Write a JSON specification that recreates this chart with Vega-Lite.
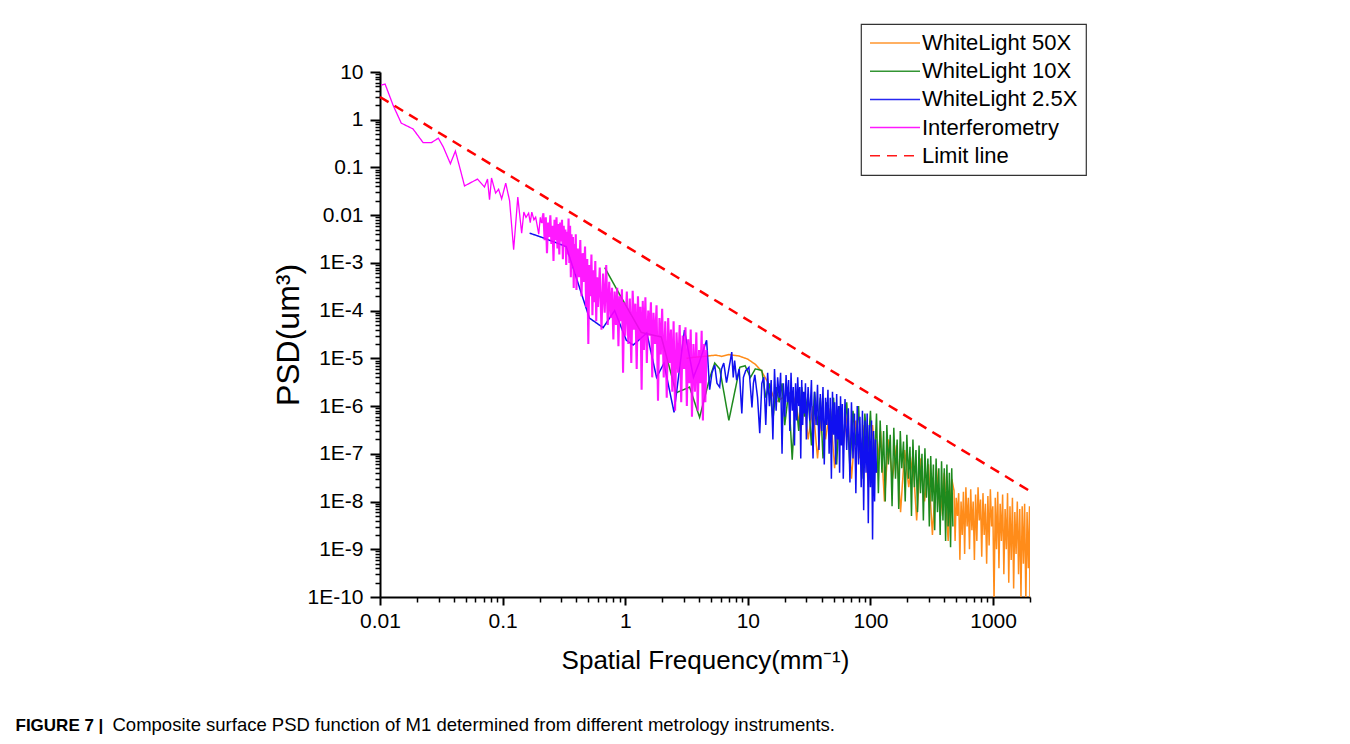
{
  "$schema": "https://vega.github.io/schema/vega-lite/v6.json",
  "width": 650,
  "height": 525,
  "autosize": {"type": "none"},
  "padding": {"left": 380, "top": 72, "right": 320, "bottom": 147},
  "background": "white",
  "config": {
    "view": {"stroke": null},
    "font": "Liberation Sans",
    "axis": {"labelFont": "Liberation Sans", "titleFont": "Liberation Sans", "labelColor": "black", "titleColor": "black", "grid": false, "domainColor": "black", "tickColor": "black"},
    "legend": {
      "orient": "none", "legendX": 481, "legendY": -48,
      "strokeColor": "#333333", "strokeWidth": 1.2, "padding": 8, "fillColor": "white",
      "symbolType": "M-5,0H5", "symbolSize": 100, "symbolStrokeWidth": 1.5, "symbolOffset": 15,
      "labelOffset": 16, "labelFontSize": 22, "labelFont": "Liberation Sans", "labelColor": "black",
      "rowPadding": 6.2, "labelLimit": 400
    }
  },
  "datasets": {
    "magentaSparse": [
      {"x":0.0102,"y":5.3},{"x":0.011,"y":5.6},{"x":0.0128,"y":2.0},{"x":0.0149,"y":0.85},{"x":0.0186,"y":0.64},{"x":0.0225,"y":0.33},{"x":0.0262,"y":0.33},{"x":0.0299,"y":0.41},{"x":0.0328,"y":0.27},{"x":0.0375,"y":0.12},{"x":0.0412,"y":0.22},{"x":0.0453,"y":0.088},{"x":0.0489,"y":0.041},{"x":0.0624,"y":0.057},{"x":0.0711,"y":0.039},{"x":0.0753,"y":0.057},{"x":0.0782,"y":0.021},{"x":0.0812,"y":0.06},{"x":0.0877,"y":0.029},{"x":0.0927,"y":0.035},{"x":0.0982,"y":0.022},{"x":0.106,"y":0.047},{"x":0.114,"y":0.02},{"x":0.123,"y":0.0019},{"x":0.133,"y":0.024},{"x":0.143,"y":0.0042},{"x":0.149,"y":0.0116},{"x":0.155,"y":0.009},{"x":0.163,"y":0.011},{"x":0.168,"y":0.007},{"x":0.173,"y":0.0116},{"x":0.18,"y":0.008},{"x":0.186,"y":0.0091},{"x":0.197,"y":0.004},{"x":0.203,"y":0.009},{"x":0.208,"y":0.0068}
    ],
    "magentaDense": [
      {"x":0.208,"y":0.0068},{"x":0.215,"y":1.1e-2},{"x":0.22,"y":3e-3},{"x":0.225,"y":9e-3},{"x":0.23,"y":1.6e-3},{"x":0.235,"y":7e-3},{"x":0.24,"y":3.5e-3},{"x":0.245,"y":1.0e-2},{"x":0.25,"y":2.5e-3},{"x":0.255,"y":6e-3},{"x":0.26,"y":1.1e-3},{"x":0.265,"y":8e-3},{"x":0.27,"y":3e-3},{"x":0.275,"y":9e-3},{"x":0.28,"y":2e-3},{"x":0.285,"y":6.5e-3},{"x":0.29,"y":1.5e-3},{"x":0.295,"y":7e-3},{"x":0.30,"y":2.8e-3},{"x":0.305,"y":8e-3},{"x":0.31,"y":1.2e-3},{"x":0.315,"y":6e-3},{"x":0.32,"y":2.2e-3},{"x":0.325,"y":5e-3},{"x":0.33,"y":9e-4},{"x":0.335,"y":4.5e-3},{"x":0.34,"y":1.5e-3},{"x":0.345,"y":8.5e-3},{"x":0.35,"y":1.0e-3},{"x":0.355,"y":6e-3},{"x":0.36,"y":5e-4},{"x":0.365,"y":4e-3},{"x":0.37,"y":8e-4},{"x":0.375,"y":3.5e-3},{"x":0.38,"y":3e-4},{"x":0.385,"y":2.5e-3},{"x":0.39,"y":6e-4},{"x":0.395,"y":4e-3},{"x":0.40,"y":2.7e-4},{"x":0.41,"y":2e-3},{"x":0.42,"y":5e-4},{"x":0.43,"y":3e-3},{"x":0.44,"y":2e-4},{"x":0.45,"y":1.6e-3},{"x":0.46,"y":4e-4},{"x":0.47,"y":2.2e-3},{"x":0.48,"y":1.2e-4},{"x":0.49,"y":1.2e-3},{"x":0.50,"y":2e-5},{"x":0.51,"y":9e-4},{"x":0.52,"y":2e-4},{"x":0.53,"y":1.5e-3},{"x":0.54,"y":8e-5},{"x":0.55,"y":7e-4},{"x":0.56,"y":1.5e-4},{"x":0.57,"y":1.1e-3},{"x":0.58,"y":6e-5},{"x":0.59,"y":5e-4},{"x":0.60,"y":1.2e-4},{"x":0.62,"y":8e-4},{"x":0.64,"y":4e-5},{"x":0.66,"y":6e-4},{"x":0.68,"y":9e-5},{"x":0.70,"y":9e-4},{"x":0.72,"y":5e-5},{"x":0.74,"y":4e-4},{"x":0.76,"y":7e-5},{"x":0.78,"y":3e-4},{"x":0.80,"y":2.5e-5},{"x":0.82,"y":2.5e-4},{"x":0.84,"y":5e-5},{"x":0.86,"y":3e-4},{"x":0.88,"y":1.8e-5},{"x":0.90,"y":2e-4},{"x":0.92,"y":6e-5},{"x":0.94,"y":2.8e-4},{"x":0.96,"y":5e-6},{"x":0.98,"y":1.5e-4},{"x":1.00,"y":3e-5},{"x":1.03,"y":2.5e-4},{"x":1.06,"y":2e-5},{"x":1.09,"y":1.8e-4},{"x":1.12,"y":8e-6},{"x":1.15,"y":2.6e-4},{"x":1.18,"y":4e-5},{"x":1.21,"y":1.4e-4},{"x":1.24,"y":6e-6},{"x":1.27,"y":2e-4},{"x":1.30,"y":2.5e-5},{"x":1.33,"y":1.2e-4},{"x":1.36,"y":2.2e-6},{"x":1.39,"y":1.6e-4},{"x":1.42,"y":1.5e-5},{"x":1.46,"y":1.9e-4},{"x":1.50,"y":8e-6},{"x":1.54,"y":1.0e-4},{"x":1.58,"y":3e-5},{"x":1.62,"y":1.5e-4},{"x":1.66,"y":4e-6},{"x":1.70,"y":9e-5},{"x":1.75,"y":2e-5},{"x":1.80,"y":1.3e-4},{"x":1.85,"y":1.3e-6},{"x":1.90,"y":7e-5},{"x":1.95,"y":1.2e-5},{"x":2.00,"y":1.1e-4},{"x":2.06,"y":4e-6},{"x":2.12,"y":6e-5},{"x":2.18,"y":1.5e-6},{"x":2.24,"y":7e-5},{"x":2.30,"y":8e-6},{"x":2.36,"y":4e-5},{"x":2.42,"y":2e-6},{"x":2.48,"y":6e-5},{"x":2.55,"y":8e-7},{"x":2.62,"y":3.5e-5},{"x":2.70,"y":5e-6},{"x":2.78,"y":5e-5},{"x":2.86,"y":1.2e-6},{"x":2.94,"y":3e-5},{"x":3.02,"y":6e-6},{"x":3.10,"y":4.5e-5},{"x":3.18,"y":1e-6},{"x":3.26,"y":2.5e-5},{"x":3.34,"y":3e-6},{"x":3.42,"y":4e-5},{"x":3.50,"y":6e-7},{"x":3.60,"y":2e-5},{"x":3.70,"y":2e-6},{"x":3.80,"y":3.5e-5},{"x":3.90,"y":8e-7},{"x":4.00,"y":1.5e-5},{"x":4.10,"y":3e-6},{"x":4.20,"y":3.8e-5},{"x":4.30,"y":5e-7},{"x":4.40,"y":2e-5},{"x":4.50,"y":1.2e-6},{"x":4.60,"y":1.5e-5}
    ],
    "blue": [
      {"x":0.166,"y":4.2e-3},{"x":0.205,"y":3.5e-3},{"x":0.33,"y":2.2e-3},{"x":0.51,"y":7e-5},{"x":0.66,"y":4.4e-5},{"x":0.82,"y":1.0e-4},{"x":1.02,"y":2.4e-5},{"x":1.16,"y":1.9e-5},{"x":1.5,"y":3.4e-5},{"x":1.8,"y":4e-6},{"x":2.07,"y":7.9e-6},{"x":2.5,"y":7.4e-7},{"x":3.04,"y":3.9e-5},{"x":3.6,"y":4e-6},{"x":4.0,"y":8e-6},{"x":4.61,"y":2.4e-5},{"x":4.88,"y":2.2e-6},{"x":5.1,"y":5e-6},{"x":5.37,"y":7.2e-6},{"x":5.6,"y":3e-6},{"x":5.89,"y":2.5e-6},{"x":6.1,"y":6e-6},{"x":6.36,"y":8e-6},{"x":6.7,"y":3.1e-6},{"x":7.0,"y":6e-6},{"x":7.39,"y":1.35e-5},{"x":7.6,"y":4e-6},{"x":7.8,"y":9e-6},{"x":8.1,"y":3.5e-6},{"x":8.5,"y":6e-6},{"x":8.93,"y":7e-7},{"x":9.2,"y":4e-6},{"x":9.6,"y":5.5e-6},{"x":10.2,"y":6.5e-6},{"x":10.8,"y":9.4e-7},{"x":11.1,"y":3e-6},{"x":11.4,"y":4.5e-6},{"x":12.0,"y":1.5e-6},{"x":12.5,"y":2.7e-7},{"x":13.0,"y":3e-6},{"x":13.5,"y":4e-6},
      {"x":14.0,"y":4e-7},{"x":14.5,"y":5e-6},{"x":15.0,"y":1e-6},{"x":15.5,"y":3.5e-6},{"x":16.0,"y":2e-7},{"x":16.5,"y":6e-6},{"x":17.0,"y":8e-7},{"x":17.5,"y":4e-6},{"x":18.0,"y":1.5e-6},{"x":18.5,"y":5e-6},{"x":19.0,"y":1e-7},{"x":19.5,"y":3e-6},{"x":20.0,"y":6e-7},{"x":20.5,"y":4.5e-6},{"x":21.0,"y":1.2e-6},{"x":21.5,"y":3.5e-6},{"x":22.0,"y":3e-7},{"x":22.5,"y":5e-6},{"x":23.0,"y":8e-7},{"x":23.5,"y":2.5e-6},{"x":24.0,"y":1.5e-7},{"x":24.5,"y":3e-6},{"x":25.0,"y":5e-7},{"x":25.5,"y":4e-6},{"x":26.0,"y":1e-6},{"x":26.5,"y":2.5e-6},{"x":27.0,"y":8e-8},{"x":27.5,"y":3.5e-6},{"x":28.0,"y":4e-7},{"x":28.5,"y":2e-6},{"x":29.0,"y":7e-7},{"x":29.5,"y":3e-6},{"x":30,"y":2e-7},{"x":31,"y":2.5e-6},{"x":32,"y":5e-7},{"x":33,"y":3.5e-6},{"x":34,"y":8e-8},{"x":35,"y":2e-6},{"x":36,"y":4e-7},{"x":37,"y":2.8e-6},{"x":38,"y":1.2e-7},{"x":39,"y":1.8e-6},{"x":40,"y":3e-7},{"x":41,"y":2.5e-6},{"x":42,"y":6e-8},{"x":43,"y":1.5e-6},{"x":44,"y":4e-7},{"x":45,"y":2.2e-6},{"x":46,"y":1e-7},{"x":47,"y":1.5e-6},{"x":48,"y":3e-8},{"x":49,"y":2e-6},{"x":50,"y":2.5e-7},{"x":51,"y":1.2e-6},{"x":52,"y":6e-8},{"x":53,"y":1.8e-6},{"x":54,"y":2e-7},{"x":55,"y":1e-6},{"x":56,"y":4e-8},{"x":57,"y":1.6e-6},{"x":58,"y":1.5e-7},{"x":59,"y":1.1e-6},{"x":60,"y":3e-8},{"x":62,"y":1.4e-6},{"x":64,"y":1.2e-7},{"x":66,"y":9e-7},{"x":68,"y":2.5e-8},{"x":70,"y":1.2e-6},{"x":72,"y":8e-8},{"x":74,"y":7e-7},{"x":76,"y":1.5e-8},{"x":78,"y":1e-6},{"x":80,"y":6e-8},{"x":82,"y":6e-7},{"x":84,"y":2e-8},{"x":86,"y":8e-7},{"x":88,"y":6.6e-9},{"x":90,"y":5e-7},{"x":92,"y":4e-8},{"x":94,"y":7e-7},{"x":96,"y":3.5e-9},{"x":98,"y":4e-7},{"x":100,"y":2e-8},{"x":102,"y":5e-7},{"x":104,"y":1.6e-9},{"x":106,"y":3e-7},{"x":108,"y":1e-8},{"x":110,"y":2e-7},{"x":112,"y":4e-8}
    ],
    "green": [
      {"x":0.68,"y":8e-4},{"x":0.89,"y":2.3e-4},{"x":1.35,"y":3.5e-5},{"x":1.97,"y":2.8e-5},{"x":2.6,"y":1.9e-6},{"x":3.35,"y":2.5e-6},{"x":4.04,"y":5.8e-7},{"x":4.9,"y":4e-6},{"x":5.37,"y":8e-6},{"x":5.9,"y":6e-6},{"x":7.0,"y":5e-7},{"x":8.6,"y":6.5e-6},{"x":9.5,"y":7e-6},{"x":10.5,"y":4e-6},{"x":11.5,"y":6e-6},{"x":13,"y":5.6e-6},{"x":14,"y":1.5e-6},{"x":15,"y":3e-6},{"x":16,"y":5e-7},{"x":17,"y":2.5e-6},{"x":18,"y":1.2e-6},{"x":19,"y":3e-6},{"x":20,"y":4e-7},{"x":21.5,"y":2e-6},{"x":23,"y":7.5e-8},{"x":24.5,"y":1.5e-6},{"x":26,"y":3e-7},{"x":27.5,"y":2.5e-6},{"x":29,"y":6e-7},{"x":31,"y":1.8e-6},{"x":33,"y":1.5e-7},{"x":35,"y":2e-6},{"x":37,"y":4e-7},{"x":39,"y":1.5e-6},{"x":41,"y":8e-8},{"x":44,"y":1.2e-6},{"x":47,"y":2.5e-7},{"x":50,"y":1.5e-6},{"x":53,"y":6e-8},{"x":56,"y":1e-6},{"x":60,"y":2e-7},{"x":64,"y":1.2e-6},{"x":68,"y":5e-8},{"x":72,"y":8e-7},{"x":76,"y":1.5e-7},{"x":80,"y":1e-6},{"x":85,"y":3e-8},{"x":90,"y":7e-7},{"x":95,"y":1e-7},{"x":100,"y":8e-7},{"x":106,"y":2e-8},{"x":112,"y":7e-7},
      {"x":116,"y":1.5e-8},{"x":120,"y":5e-7},{"x":124,"y":4e-8},{"x":128,"y":3e-7},{"x":132,"y":1e-8},{"x":136,"y":4e-7},{"x":140,"y":6e-8},{"x":145,"y":2.5e-7},{"x":150,"y":8e-9},{"x":155,"y":3.5e-7},{"x":160,"y":3e-8},{"x":165,"y":2e-7},{"x":170,"y":7e-9},{"x":175,"y":3e-7},{"x":180,"y":5e-8},{"x":186,"y":1.8e-7},{"x":192,"y":1e-8},{"x":198,"y":2.5e-7},{"x":204,"y":3e-8},{"x":210,"y":1.4e-7},{"x":216,"y":5e-9},{"x":222,"y":2e-7},{"x":228,"y":2e-8},{"x":235,"y":1.2e-7},{"x":242,"y":6e-9},{"x":249,"y":1.5e-7},{"x":256,"y":1.5e-8},{"x":263,"y":1e-7},{"x":270,"y":4e-9},{"x":278,"y":1.3e-7},{"x":286,"y":1.2e-8},{"x":294,"y":8e-8},{"x":302,"y":3e-9},{"x":310,"y":9e-8},{"x":318,"y":1e-8},{"x":326,"y":6e-8},{"x":334,"y":2.5e-9},{"x":343,"y":8e-8},{"x":352,"y":6e-9},{"x":361,"y":5e-8},{"x":370,"y":2e-9},{"x":380,"y":7e-8},{"x":390,"y":4e-9},{"x":400,"y":5e-8},{"x":410,"y":1.5e-9},{"x":420,"y":6e-8},{"x":430,"y":3e-9},{"x":440,"y":4e-8},{"x":450,"y":1.1e-9},{"x":460,"y":5e-8},{"x":470,"y":3e-9}
    ],
    "orange": [
      {"x":3.16,"y":1.0e-5},{"x":3.6,"y":1.05e-5},{"x":4.4,"y":1.1e-5},{"x":5.5,"y":1.17e-5},{"x":6.1,"y":1.1e-5},{"x":7.0,"y":1.2e-5},{"x":8.5,"y":1.12e-5},{"x":10,"y":9.6e-6},{"x":11.5,"y":7.5e-6},{"x":13,"y":5.3e-6},{"x":14.8,"y":2.9e-6},{"x":16.8,"y":1.2e-6},{"x":18.5,"y":1.4e-6},{"x":20,"y":1.6e-6},{"x":23,"y":2e-6},{"x":25,"y":9e-7},
      {"x":27,"y":3e-7},{"x":29,"y":1.2e-6},{"x":31,"y":2e-7},{"x":34,"y":1e-6},{"x":37,"y":8e-8},{"x":40,"y":8e-7},{"x":43,"y":2e-7},{"x":47,"y":9e-7},{"x":51,"y":5e-8},{"x":55,"y":6e-7},{"x":60,"y":1.5e-7},{"x":65,"y":7e-7},{"x":70,"y":3e-8},{"x":76,"y":5e-7},{"x":82,"y":8e-8},{"x":89,"y":4e-7},{"x":96,"y":2e-8},{"x":104,"y":4e-7},{"x":112,"y":4e-8},{"x":121,"y":3e-7},{"x":130,"y":1e-8},{"x":140,"y":2e-7},{"x":151,"y":3e-8},{"x":163,"y":1.5e-7},{"x":176,"y":6e-9},{"x":190,"y":1.2e-7},{"x":205,"y":2e-8},{"x":221,"y":9e-8},{"x":238,"y":4e-9},{"x":256,"y":8e-8},{"x":276,"y":1e-8},{"x":297,"y":6e-8},{"x":320,"y":2e-9},{"x":345,"y":5e-8},{"x":372,"y":5e-9},{"x":400,"y":4e-8},{"x":430,"y":1.5e-9},{"x":460,"y":3e-8},
      {"x":480,"y":1.7e-8},{"x":490,"y":1.5e-9},{"x":500,"y":1.2e-8},{"x":512,"y":5e-9},{"x":524,"y":1.5e-8},{"x":536,"y":6e-10},{"x":548,"y":1e-8},{"x":560,"y":2e-9},{"x":573,"y":1.6e-8},{"x":586,"y":8e-10},{"x":600,"y":2e-8},{"x":614,"y":3e-9},{"x":628,"y":1.2e-8},{"x":642,"y":1e-9},{"x":657,"y":1.8e-8},{"x":672,"y":2.5e-9},{"x":688,"y":1e-8},{"x":704,"y":6e-10},{"x":720,"y":1.4e-8},{"x":737,"y":1.5e-9},{"x":754,"y":2e-8},{"x":772,"y":4e-9},{"x":790,"y":1.1e-8},{"x":808,"y":7e-10},{"x":827,"y":1.5e-8},{"x":846,"y":2e-9},{"x":866,"y":9e-9},{"x":886,"y":5e-10},{"x":907,"y":1.3e-8},{"x":928,"y":1.2e-9},{"x":950,"y":1.8e-8},{"x":972,"y":3e-9},{"x":995,"y":8e-9},{"x":1018,"y":8e-11},{"x":1042,"y":1.2e-8},{"x":1066,"y":1e-9},{"x":1091,"y":1.6e-8},{"x":1116,"y":4e-10},{"x":1142,"y":9e-9},{"x":1169,"y":1.5e-9},{"x":1196,"y":1.4e-8},{"x":1224,"y":3e-10},{"x":1253,"y":7e-9},{"x":1282,"y":1e-9},{"x":1312,"y":1.5e-8},{"x":1342,"y":2e-10},{"x":1373,"y":8e-9},{"x":1405,"y":6e-10},{"x":1438,"y":1.2e-8},{"x":1471,"y":1.5e-10},{"x":1505,"y":6e-9},{"x":1540,"y":8e-10},{"x":1576,"y":1e-8},{"x":1613,"y":3e-10},{"x":1650,"y":7e-9},{"x":1688,"y":1e-10},{"x":1727,"y":8e-9},{"x":1767,"y":5e-10},{"x":1808,"y":9e-9},{"x":1850,"y":8e-11},{"x":1893,"y":6e-9},{"x":1937,"y":4e-10},{"x":1982,"y":8e-9},{"x":2000,"y":7e-11}
    ],
    "limit": [{"x":0.01,"y":3.0},{"x":2000,"y":1.65e-8}]
  },
  "layer": [
    {
      "encoding": {
        "x": {"field": "x", "type": "quantitative", "scale": {"type": "log", "domain": [0.01, 2000], "nice": false},
          "axis": {"orient": "bottom", "values": [0.01, 0.1, 1, 10, 100, 1000], "labelExpr": "'' + datum.value", "tickSize": 8, "tickWidth": 2, "domainWidth": 2, "labelFontSize": 21, "labelPadding": 5, "labelFlush": false, "labelOverlap": false, "title": "Spatial Frequency(mm⁻¹)", "titleFontSize": 26, "titleFontWeight": "normal", "titlePadding": 16}},
        "y": {"field": "y", "type": "quantitative", "scale": {"type": "log", "domain": [1e-10, 10], "nice": false},
          "axis": {"orient": "left", "values": [1e-10, 1e-9, 1e-8, 1e-7, 1e-6, 1e-5, 1e-4, 1e-3, 0.01, 0.1, 1, 10], "labelExpr": "datum.value >= 0.01 ? '' + datum.value : '1E' + round(log(datum.value)/LN10)", "tickSize": 10, "tickWidth": 2, "domainWidth": 2, "labelFontSize": 21, "labelPadding": 7, "labelFlush": false, "labelOverlap": false, "title": "PSD(um³)", "titleFontSize": 32, "titleFontWeight": "normal", "titlePadding": 1}}
      },
      "layer": [
        {"data": {"name": "orange"}, "mark": {"type": "line", "strokeWidth": 1.5, "clip": true},
         "encoding": {"color": {"datum": "WhiteLight 50X", "type": "nominal", "scale": {"domain": ["WhiteLight 50X", "WhiteLight 10X", "WhiteLight 2.5X", "Interferometry", "Limit line"], "range": ["#FF8C1A", "#1E8A1E", "#1010F0", "#FF00FF", "#FF0000"]}, "legend": {"title": null}},
                      "strokeDash": {"datum": "WhiteLight 50X", "type": "nominal", "scale": {"domain": ["WhiteLight 50X", "WhiteLight 10X", "WhiteLight 2.5X", "Interferometry", "Limit line"], "range": [[1, 0], [1, 0], [1, 0], [1, 0], [10, 7]]}, "legend": {"title": null}}}},
        {"data": {"name": "green"}, "mark": {"type": "line", "strokeWidth": 1.5, "clip": true},
         "encoding": {"color": {"datum": "WhiteLight 10X", "type": "nominal", "legend": {"title": null}},
                      "strokeDash": {"datum": "WhiteLight 10X", "type": "nominal", "legend": {"title": null}}}},
        {"data": {"name": "blue"}, "mark": {"type": "line", "strokeWidth": 1.5, "clip": true},
         "encoding": {"color": {"datum": "WhiteLight 2.5X", "type": "nominal", "legend": {"title": null}},
                      "strokeDash": {"datum": "WhiteLight 2.5X", "type": "nominal", "legend": {"title": null}}}},
        {"data": {"name": "magentaSparse"}, "mark": {"type": "line", "strokeWidth": 1.3, "clip": true},
         "encoding": {"color": {"datum": "Interferometry", "type": "nominal", "legend": {"title": null}},
                      "strokeDash": {"datum": "Interferometry", "type": "nominal", "legend": {"title": null}}}},
        {"data": {"name": "magentaDense"}, "mark": {"type": "line", "strokeWidth": 2.1, "opacity": 0.9, "clip": true},
         "encoding": {"color": {"datum": "Interferometry", "type": "nominal", "legend": {"title": null}},
                      "strokeDash": {"datum": "Interferometry", "type": "nominal", "legend": {"title": null}}}}
      ]
    },
    {
      "data": {"name": "limit"},
      "mark": {"type": "line", "strokeWidth": 2.5},
      "encoding": {
        "x": {"field": "x", "type": "quantitative", "scale": {"type": "log", "domain": [0.01, 2000], "nice": false},
          "axis": {"orient": "bottom", "values": [0.02,0.03,0.04,0.05,0.06,0.07,0.08,0.09,0.2,0.3,0.4,0.5,0.6,0.7,0.8,0.9,2,3,4,5,6,7,8,9,20,30,40,50,60,70,80,90,200,300,400,500,600,700,800,900,2000], "labels": false, "domain": false, "tickSize": 5, "tickWidth": 1.5,
            "title": "Composite surface PSD function of M1 determined from different metrology instruments.", "titleX": -268, "titleY": 133, "titleAngle": 0, "titleAlign": "left", "titleBaseline": "alphabetic", "titleFontSize": 18.5, "titleFontWeight": "normal", "titleLimit": 1000}},
        "y": {"field": "y", "type": "quantitative", "scale": {"type": "log", "domain": [1e-10, 10], "nice": false},
          "axis": {"orient": "left", "values": [2e-10,3e-10,4e-10,5e-10,6e-10,7e-10,8e-10,9e-10,2e-9,3e-9,4e-9,5e-9,6e-9,7e-9,8e-9,9e-9,2e-8,3e-8,4e-8,5e-8,6e-8,7e-8,8e-8,9e-8,2e-7,3e-7,4e-7,5e-7,6e-7,7e-7,8e-7,9e-7,2e-6,3e-6,4e-6,5e-6,6e-6,7e-6,8e-6,9e-6,2e-5,3e-5,4e-5,5e-5,6e-5,7e-5,8e-5,9e-5,2e-4,3e-4,4e-4,5e-4,6e-4,7e-4,8e-4,9e-4,0.002,0.003,0.004,0.005,0.006,0.007,0.008,0.009,0.02,0.03,0.04,0.05,0.06,0.07,0.08,0.09,0.2,0.3,0.4,0.5,0.6,0.7,0.8,0.9,2,3,4,5,6,7,8,9], "labels": false, "domain": false, "tickSize": 5, "tickWidth": 1.5,
            "title": "FIGURE 7 |", "titleX": -365, "titleY": 658, "titleAngle": 0, "titleAlign": "left", "titleBaseline": "alphabetic", "titleFontSize": 17, "titleFontWeight": "bold", "titleLimit": 500}},
        "color": {"datum": "Limit line", "type": "nominal", "legend": {"title": null}},
        "strokeDash": {"datum": "Limit line", "type": "nominal", "legend": {"title": null}}
      }
    }
  ],
  "resolve": {"axis": {"x": "independent", "y": "independent"}}
}
